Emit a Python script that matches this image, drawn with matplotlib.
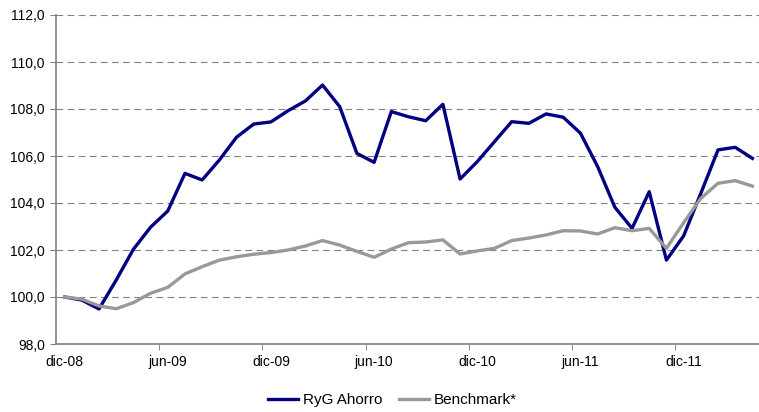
import numpy as np
import matplotlib
matplotlib.use("Agg")
import matplotlib.pyplot as plt
from matplotlib.ticker import FuncFormatter

plt.rcParams['font.family'] = ['Liberation Sans', 'DejaVu Sans']

# Valores mensuales, dic-08 a abr-12 (base 100)
ryg = [100.0, 99.87, 99.49, 100.72, 102.03, 102.97, 103.66, 105.26, 104.98, 105.83,
       106.8, 107.36, 107.45, 107.93, 108.34, 109.02, 108.1, 106.11, 105.73, 107.89,
       107.67, 107.5, 108.2, 105.02, 105.76, 106.61, 107.46, 107.39, 107.79, 107.65,
       106.97, 105.55, 103.82, 102.92, 104.48, 101.57, 102.6, 104.41, 106.26, 106.37,
       105.9]
benchmark = [100.0, 99.91, 99.62, 99.5, 99.76, 100.16, 100.41, 100.98, 101.29, 101.57,
             101.71, 101.82, 101.89, 102.0, 102.17, 102.4, 102.21, 101.94, 101.69, 102.04,
             102.31, 102.34, 102.43, 101.83, 101.96, 102.07, 102.4, 102.51, 102.64, 102.82,
             102.81, 102.68, 102.95, 102.82, 102.92, 102.07, 103.16, 104.2, 104.84, 104.95,
             104.72]
etiquetas = ['dic-08', 'jun-09', 'dic-09', 'jun-10', 'dic-10', 'jun-11', 'dic-11']

W, H = 759, 412
fig = plt.figure(figsize=(W / 100, H / 100), dpi=100)
ax = fig.add_axes([56 / W, 1 - 344 / H, (761 - 56) / W, (344 - 15) / H])

x = np.arange(len(ryg))
ax.plot(x, ryg, color='#000080', lw=2.4, solid_joinstyle='round', label='RyG Ahorro')
ax.plot(x, benchmark, color='#999999', lw=2.4, solid_joinstyle='round', label='Benchmark*')

ax.set_xlim(-0.5, len(ryg) - 0.5)
ax.set_ylim(98, 112)
ax.set_yticks(np.arange(98, 113, 2))
ax.yaxis.set_major_formatter(FuncFormatter(lambda v, p: f'{v:.1f}'.replace('.', ',')))
ax.grid(axis='y', color='#808080', linestyle=(0, (6, 4)), lw=0.8)
ax.set_axisbelow(True)

# etiquetas centradas en los puntos, marcas entre categorías
ax.set_xticks(np.arange(0, len(ryg), 6), etiquetas)
ax.tick_params(axis='x', which='major', length=0, pad=8)
ax.set_xticks(np.arange(5.5, len(ryg), 6), minor=True)
ax.tick_params(axis='x', which='minor', length=4, color='#808080', direction='out')
ax.tick_params(axis='y', length=4, color='#808080', direction='out', pad=4)
ax.tick_params(labelsize=10, labelcolor='black')

for s in ['top', 'right']:
    ax.spines[s].set_visible(False)
for s in ['left', 'bottom']:
    ax.spines[s].set_color('#808080')
    ax.spines[s].set_linewidth(1.2)

fig.legend(loc='center', bbox_to_anchor=(392.5 / W, 1 - 400 / H), ncol=2, frameon=False,
           fontsize=11, handlelength=1.95, handletextpad=0.33, columnspacing=1.1,
           borderpad=0, borderaxespad=0)

fig.savefig('out.png', dpi=100)
